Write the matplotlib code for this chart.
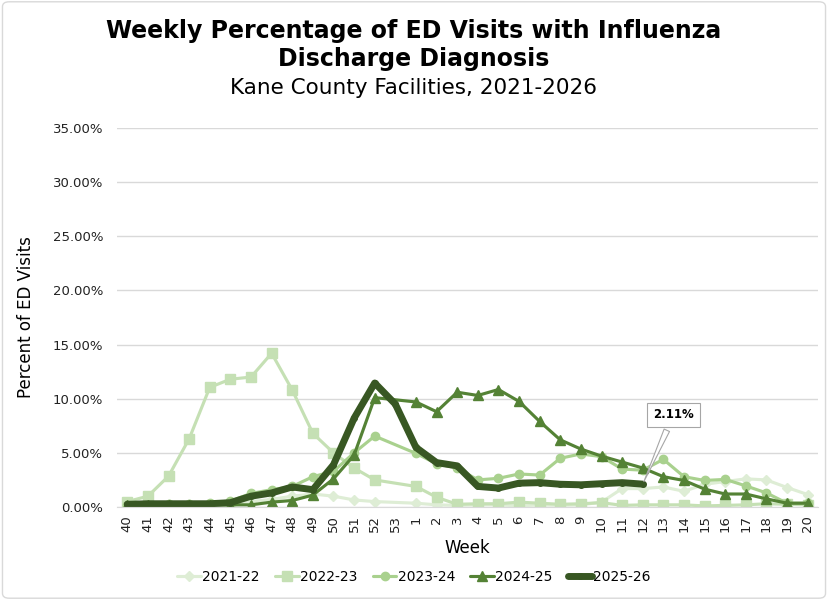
import matplotlib
matplotlib.use("Agg")
import matplotlib.pyplot as plt
from matplotlib.patches import FancyBboxPatch
import numpy as np

plt.rcParams['font.family'] = ['DejaVu Sans']

weeks = [str(w) for w in list(range(40, 54)) + list(range(1, 21))]

s2122 = [0.4, 0.3, 0.3, 0.3, 0.3, 0.1, 0.5, 0.7, 1.0, 1.2, 1.0, 0.65, 0.5, None,
         0.35, 0.2, 0.15, 0.2, 0.2, 0.1, 0.2, 0.15, 0.2, 0.45, 1.7, 1.7, 1.85, 1.45,
         2.1, 2.35, 2.6, 2.5, 1.8, 1.15]
s2223 = [0.5, 1.0, 2.85, 6.3, 11.05, 11.8, 12.0, 14.2, 10.8, 6.8, 5.0, 3.6, 2.5, None,
         1.9, 0.9, 0.25, 0.3, 0.3, 0.45, 0.35, 0.25, 0.3, 0.4, 0.15, 0.2, 0.2, 0.2,
         0.1, 0.15, 0.2, 0.3, 0.25, 0.2]
s2324 = [0.2, 0.2, 0.3, 0.3, 0.4, 0.55, 1.25, 1.6, 1.9, 2.8, 3.3, 5.0, 6.55, None,
         4.95, 4.0, 3.6, 2.5, 2.65, 3.05, 2.95, 4.5, 4.9, 4.65, 3.5, 3.4, 4.4, 2.8,
         2.45, 2.55, 1.95, 1.3, 0.35, 0.35]
s2425 = [0.2, 0.2, 0.2, 0.2, 0.2, 0.2, 0.2, 0.45, 0.6, 1.1, 2.6, 4.8, 10.1, None,
         9.7, 8.8, 10.6, 10.3, 10.85, 9.75, 7.9, 6.2, 5.35, 4.7, 4.15, 3.6, 2.8, 2.45,
         1.65, 1.2, 1.2, 0.75, 0.35, 0.35]
s2526 = [0.25, 0.3, 0.3, 0.3, 0.3, 0.4, 1.0, 1.3, 1.85, 1.6, 3.9, 8.2, 11.45, 9.5,
         5.5, 4.1, 3.8, 1.9, 1.75, 2.2, 2.25, 2.1, 2.05, 2.15, 2.25, 2.11] + [None] * 8

series_names = ["2021-22", "2022-23", "2023-24", "2024-25", "2025-26"]
series_vals = [s2122, s2223, s2324, s2425, s2526]
colors = ["#deedd5", "#c5e0b4", "#a9d18e", "#548235", "#385723"]
markers = ["D", "s", "o", "^", "o"]
msizes = [5.0, 6.5, 6.0, 7.0, 4.0]
lwidths = [2.25, 2.25, 2.25, 2.25, 5.0]

fig = plt.figure(figsize=(8.28, 6.0), dpi=100)
ax = fig.add_axes([117 / 828, 1 - 507 / 600, (818 - 117) / 828, (507 - 128) / 600])

for name, vals, c, m, ms, lw in zip(series_names, series_vals, colors, markers, msizes, lwidths):
    xs = [i for i, v in enumerate(vals) if v is not None]
    ys = [v for v in vals if v is not None]
    ax.plot(xs, ys, color=c, marker=m, markersize=ms, linewidth=lw, label=name,
            solid_joinstyle='round', solid_capstyle='round', markeredgecolor=c)

ax.set_xlim(-0.5, len(weeks) - 0.5)
ax.set_ylim(0, 35)
ax.set_xticks(range(len(weeks)))
ax.set_xticklabels(weeks, rotation=90, fontsize=9.5, color="#222222")
ax.set_yticks(np.arange(0, 36, 5))
ax.set_yticklabels([f"{v:.2f}%" for v in np.arange(0, 36, 5)], fontsize=9.5, color="#222222")
ax.tick_params(axis='x', length=0, pad=6)
ax.tick_params(axis='y', length=0, pad=10)
ax.grid(axis='y', color="#d9d9d9", linewidth=1)
ax.set_axisbelow(True)
for sp in ["top", "right", "left"]:
    ax.spines[sp].set_visible(False)
ax.spines["bottom"].set_color("#d9d9d9")

ax.set_xlabel("Week", fontsize=12, labelpad=5)
ax.set_ylabel("Percent of ED Visits", fontsize=12, labelpad=13)

fig.text(0.5, 1 - 31 / 600, "Weekly Percentage of ED Visits with Influenza",
         ha="center", va="center", fontsize=17, fontweight="bold")
fig.text(0.5, 1 - 59 / 600, "Discharge Diagnosis",
         ha="center", va="center", fontsize=17, fontweight="bold")
fig.text(0.5, 1 - 88 / 600, "Kane County Facilities, 2021-2026",
         ha="center", va="center", fontsize=15.5)

# callout for last value of 2025-26
last_i = max(i for i, v in enumerate(s2526) if v is not None)
last_v = s2526[last_i]
ax.annotate(f"{last_v:.2f}%", xy=(last_i, last_v), xytext=(last_i + 1.5, 8.5),
            ha="center", va="center", fontsize=8.5, fontweight="bold",
            bbox=dict(boxstyle="square,pad=0.5", fc="white", ec="#a6a6a6", lw=0.8),
            arrowprops=dict(arrowstyle="wedge,tail_width=0.5,shrink_factor=0.5",
                            fc="white", ec="#a6a6a6", lw=0.8))

leg = fig.legend(*ax.get_legend_handles_labels(), loc="center", ncol=5,
                 bbox_to_anchor=(0.5, 1 - 577 / 600), frameon=False, fontsize=10,
                 handlelength=1.7, handletextpad=0.1, columnspacing=1.1)

border = FancyBboxPatch((0.003, 0.003), 0.994, 0.994, boxstyle="round,pad=0,rounding_size=0.008",
                        transform=fig.transFigure, fill=False, ec="#d9d9d9", lw=1)
fig.patches.append(border)

fig.savefig("out.png", dpi=100)
